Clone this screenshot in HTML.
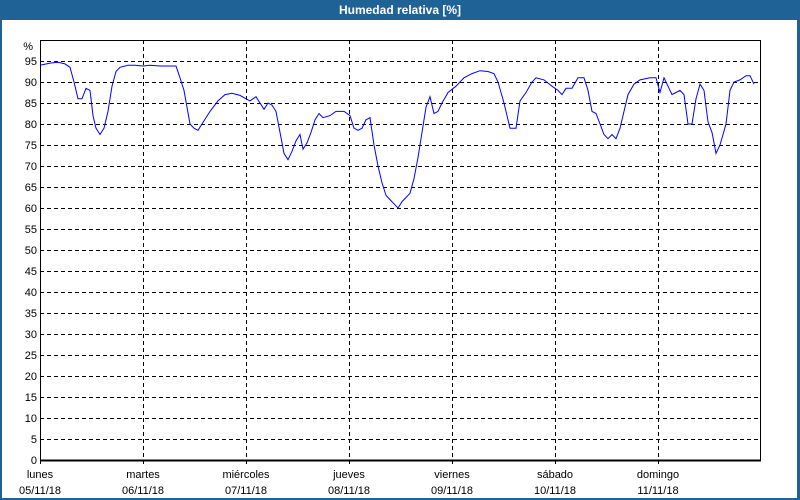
<!DOCTYPE html>
<html><head><meta charset="utf-8"><style>
html,body{margin:0;padding:0;background:#fff}
#w{position:relative;width:800px;height:500px;overflow:hidden;background:#fff;font-family:"Liberation Sans",sans-serif}
#t{position:absolute;left:0;top:0;width:800px;height:20px;background:#1f6296;color:#fff;font-weight:bold;font-size:12px;line-height:20px;text-align:center}
#bl{position:absolute;left:0;top:20px;width:2px;height:480px;background:#1f6296}
#br{position:absolute;right:0;top:20px;width:3px;height:480px;background:#1f6296}
#bb{position:absolute;left:0;bottom:0;width:800px;height:2px;background:#1f6296}
svg{position:absolute;left:0;top:0}
text{font-family:"Liberation Sans",sans-serif;font-size:11px;fill:#000}
</style></head><body><div id="w">
<div id="t">Humedad relativa [%]</div>
<svg id="s" width="800" height="500" xmlns="http://www.w3.org/2000/svg"></svg>
<div id="bl"></div><div id="br"></div><div id="bb"></div>
</div>
<script>
var s=document.getElementById('s'),h='';
function Y(v){return 460-4.2*v;}
for(var v=5;v<=95;v+=5){var y=Y(v)+0.5;h+='<line x1="40" x2="760" y1="'+y+'" y2="'+y+'" stroke="#000" stroke-dasharray="4,3"/>';}
var days=['lunes','martes','miércoles','jueves','viernes','sábado','domingo'];
for(var d=0;d<7;d++){var x=40+d*103;
if(d>0)h+='<line x1="'+(x+0.5)+'" x2="'+(x+0.5)+'" y1="40" y2="460" stroke="#000" stroke-dasharray="4,3"/>';
h+='<line x1="'+(x+0.5)+'" x2="'+(x+0.5)+'" y1="460" y2="464" stroke="#000"/>';
h+='<text x="'+x+'" y="478" text-anchor="middle">'+days[d]+'</text>';
h+='<text x="'+x+'" y="494" text-anchor="middle">'+(5+d<10?'0':'')+(5+d)+'/11/18</text>';}
for(var v=0;v<=95;v+=5){h+='<text x="37" y="'+(Y(v)+4)+'" text-anchor="end">'+v+'</text>';}
h+='<text x="33" y="50" text-anchor="end">%</text>';
var p=[40,94,50,94.5,58,94.7,65,94.3,70,93.5,74,90,78,86,82,86,86,88.5,90,88,93,82,96,79,100,77.5,104,79,108,83,112,89,116,92.5,120,93.5,128,94,135,94,143,93.8,150,94,160,93.8,176,93.8,180,91,184,88,187,84,190,80,194,79,198,78.5,202,80,210,83,218,85.5,225,87,232,87.3,240,86.8,246,86,250,85.5,256,86.5,260,85,264,83.5,268,85,272,84.5,276,83,280,78,284,73,288,71.5,292,73.5,296,76,300,77.5,303,74,307,75.5,311,78,315,81,319,82.5,323,81.5,330,82,336,83,344,83,350,82,354,79,358,78.5,362,79,366,81,370,81.5,374,75,378,70,382,66,386,63,390,62,394,61,398,60,402,61.5,406,62.5,410,63.5,414,67,418,72,422,78,426,84,430,86.5,434,82.5,438,83,442,85,448,87.5,456,89,464,91,472,92,480,92.7,488,92.5,494,92,498,90,504,85,510,79,516,79,520,85.5,526,87.5,532,90,536,91,544,90.5,552,89,558,88,562,87,566,88.5,572,88.5,578,91,584,91,588,88,592,83,596,82.5,600,80,604,77.5,608,76.5,612,77.5,616,76.5,620,79,624,83,628,87,634,89.5,640,90.5,650,91,656,91,660,87.5,664,91,668,89,672,87,676,87.5,680,88,684,87,688,80,692,80,696,86,700,89.5,704,88,708,80.5,712,78,716,73,720,75,726,80,730,88,734,90,740,90.5,746,91.5,750,91.5,754,89.5];
var pts='';for(var i=0;i<p.length;i+=2)pts+=p[i]+','+Y(p[i+1]).toFixed(1)+' ';
h+='<polyline points="'+pts+'" fill="none" stroke="#0000ff" stroke-width="1"/>';
h+='<rect x="40.5" y="40.5" width="720" height="420" fill="none" stroke="#000"/>';
h+='<line x1="40" x2="761" y1="460.5" y2="460.5" stroke="#000" stroke-width="2"/>';
s.innerHTML=h;
</script></body></html>
